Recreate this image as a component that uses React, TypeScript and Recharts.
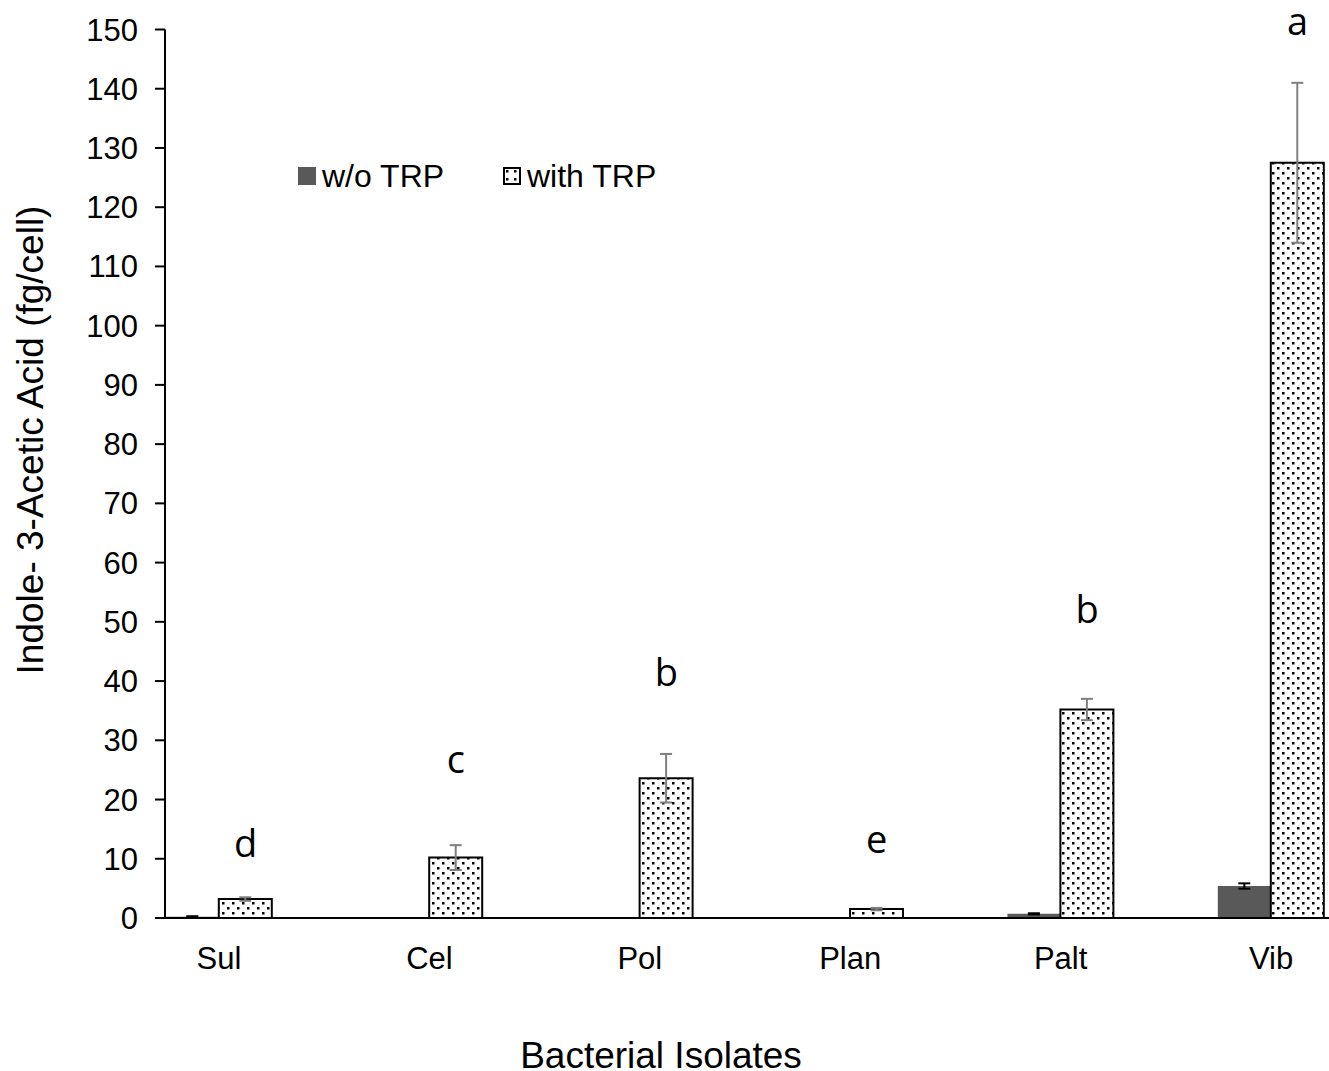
import React from 'react';
import { ComposedChart, Bar, XAxis, YAxis, ErrorBar, Scatter, Legend } from 'recharts';

const categories = ['Sul', 'Cel', 'Pol', 'Plan', 'Palt', 'Vib'];
const withoutTrp = [0.2, 0, 0, 0, 0.7, 5.4];
const withoutTrpErr = [0.1, 0, 0, 0, 0.1, 0.45];
const withTrp = [3.2, 10.2, 23.6, 1.5, 35.2, 127.5];
const withTrpErr = [0.3, 2.1, 4.1, 0.2, 1.8, 13.5];
const letters = ['d', 'c', 'b', 'e', 'b', 'a'];
const letterPos = [10.3, 24.5, 39.1, 11.0, 49.8, 149.0];
const yTicks = [0, 10, 20, 30, 40, 50, 60, 70, 80, 90, 100, 110, 120, 130, 140, 150];

const data = categories.map((name, i) => ({
  name,
  wo: withoutTrp[i],
  woErr: withoutTrpErr[i],
  w: withTrp[i],
  wErr: withTrpErr[i],
  letter: letters[i],
  letterY: letterPos[i],
}));

const FONT = '"Liberation Sans", Arial, Helvetica, sans-serif';
const BAR_SIZE = 53;

const LetterShape = (props: any) => {
  const { cx, cy, payload } = props;
  if (cx == null || cy == null) return null;
  return (
    <text
      x={cx + BAR_SIZE / 2}
      y={cy}
      textAnchor="middle"
      fontFamily='"Open Sans", "Noto Sans", sans-serif'
      fontSize={38}
      fill="#000"
    >
      {payload.letter}
    </text>
  );
};

const LegendContent = () => (
  <div
    style={{
      display: 'flex',
      alignItems: 'center',
      fontFamily: FONT,
      fontSize: 32,
      lineHeight: '36px',
      color: '#000',
      whiteSpace: 'nowrap',
    }}
  >
    <div style={{ display: 'flex', alignItems: 'center', width: 205 }}>
      <span style={{ display: 'inline-block', width: 18, height: 18, background: '#595959', marginRight: 6 }} />
      <span>w/o TRP</span>
    </div>
    <div style={{ display: 'flex', alignItems: 'center' }}>
      <svg width={18} height={18} style={{ marginRight: 6 }}>
        <defs>
          <pattern id="dotsLegend" width="8" height="8" patternUnits="userSpaceOnUse">
            <rect x="3" y="3" width="2.5" height="2.5" fill="#000" />
          </pattern>
        </defs>
        <rect x={1} y={1} width={16} height={16} fill="url(#dotsLegend)" stroke="#000" strokeWidth={2} />
      </svg>
      <span>with TRP</span>
    </div>
  </div>
);

const YTitle = () => (
  <text
    x={30}
    y={440}
    transform="rotate(-90 30 440)"
    textAnchor="middle"
    dominantBaseline="central"
    fontFamily={FONT}
    fontSize={37}
    fill="#000"
  >
    Indole- 3-Acetic Acid  (fg/cell)
  </text>
);

const XTitle = () => (
  <text x={661} y={1068} textAnchor="middle" fontFamily={FONT} fontSize={37} fill="#000">
    Bacterial Isolates
  </text>
);

export default function App() {
  return (
    <div style={{ position: 'absolute', left: 0, top: 0, width: 1329, height: 1071, background: '#fff' }}>
      <ComposedChart
        width={1329}
        height={1071}
        data={data}
        margin={{ top: 29.5, right: 0, bottom: 0, left: 0 }}
        barSize={BAR_SIZE}
        barGap={0}
      >
        <defs>
          <pattern id="dots" width="10" height="10" patternUnits="userSpaceOnUse">
            <rect width="10" height="10" fill="#fff" />
            <rect x="2" y="2" width="2.5" height="2.5" fill="#000" />
            <rect x="7" y="7" width="2.5" height="2.5" fill="#000" />
          </pattern>
        </defs>
        <XAxis
          dataKey="name"
          height={153}
          padding={{ left: -51.2, right: -47.2 }}
          axisLine={{ stroke: '#000', strokeWidth: 2 }}
          tickLine={false}
          tickSize={0}
          tickMargin={29}
          tick={{ fill: '#000', fontSize: 31, fontFamily: FONT }}
          interval={0}
          label={{ content: <XTitle /> }}
        />
        <YAxis
          width={165}
          domain={[0, 150]}
          ticks={yTicks}
          interval={0}
          axisLine={{ stroke: '#000', strokeWidth: 2 }}
          tickLine={{ stroke: '#000', strokeWidth: 2 }}
          tickSize={10}
          tickMargin={17}
          tick={{ fill: '#000', fontSize: 31, fontFamily: FONT }}
          label={{ content: <YTitle /> }}
        />
        <Legend
          layout="horizontal"
          verticalAlign="middle"
          align="center"
          wrapperStyle={{ top: 158, left: 298, width: 'auto' }}
          content={<LegendContent />}
        />
        <Bar dataKey="wo" fill="#595959" isAnimationActive={false}>
          <ErrorBar dataKey="woErr" width={6} stroke="#000" strokeWidth={2} />
        </Bar>
        <Bar dataKey="w" fill="url(#dots)" stroke="#000" strokeWidth={2} isAnimationActive={false}>
          <ErrorBar dataKey="wErr" width={6} stroke="#7f7f7f" strokeWidth={2} />
        </Bar>
        <Scatter dataKey="letterY" shape={<LetterShape />} isAnimationActive={false} legendType="none" />
      </ComposedChart>
    </div>
  );
}
